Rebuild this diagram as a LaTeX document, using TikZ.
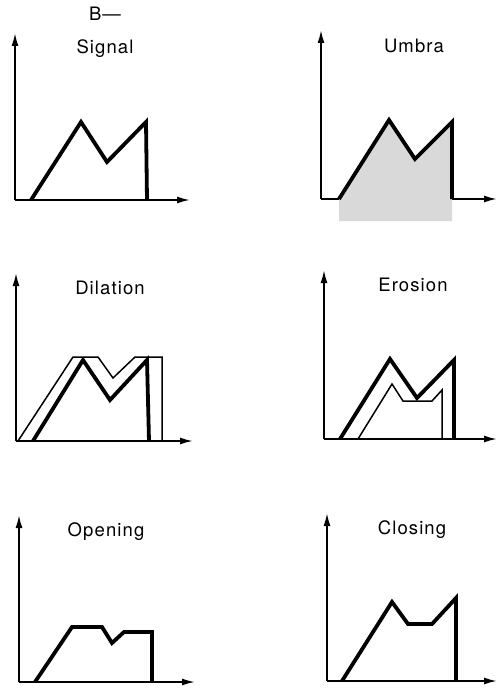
\documentclass[tikz,border=0pt]{standalone}
\usepackage{fontspec}
\setmainfont{TeX Gyre Heros}[LetterSpace=6]
\usetikzlibrary{arrows.meta}
\begin{document}
\begin{tikzpicture}[x=1pt,y=-1pt,
  axis/.style={line width=1.8pt,-{Latex[length=13pt,width=7pt]}},
  sig/.style={line width=3.8pt,line join=miter,line cap=butt},
  thinsig/.style={line width=1.5pt,line join=miter},
  title/.style={font=\fontsize{18.5}{22}\selectfont,inner sep=0pt}]
\useasboundingbox (0,0) rectangle (498,690);
% label
\node[title] (blabel) at (105,14) {B—};
% ---------- Signal ----------
\coordinate (o1) at (15,200);
\draw[axis] (o1) -- (15,33);
\draw[axis] (o1) -- (190,200);
\draw[sig] (31,200) -- (81,122) -- (107,162) -- (146,122) -- (147,200);
\node[title] (t1) at (105,49) {Signal};
% ---------- Umbra ----------
\coordinate (o2) at (321,199);
\draw[axis] (o2) -- (321,30);
\draw[axis] (o2) -- (497,199);
\fill[black!15] (339,199) -- (389,120) -- (415,159) -- (452,122) -- (452,221) -- (339,221) -- cycle;
\draw[sig] (339,199) -- (389,120) -- (415,159) -- (452,122) -- (452,199);
\node[title] (t2) at (414,46) {Umbra};
% ---------- Dilation ----------
\coordinate (o3) at (16,441);
\draw[axis] (o3) -- (16,273);
\draw[axis] (o3) -- (193,441);
\draw[thinsig] (18,441) -- (73,357) -- (98,357) -- (113,378) -- (135,357) -- (162,357) -- (162,441);
\draw[sig] (33,441) -- (83,360) -- (110,400) -- (147,360) -- (149,441);
\node[title] (t3) at (110,288) {Dilation};
% ---------- Erosion ----------
\coordinate (o4) at (324,439);
\draw[axis] (o4) -- (324,270);
\draw[axis] (o4) -- (497,439);
\draw[thinsig] (358,439) -- (392,384) -- (403,401) -- (432,401) -- (442,390) -- (442,439);
\draw[sig] (340,439) -- (390,359) -- (417,398) -- (454,360) -- (454,439);
\node[title] (t4) at (413,285) {Erosion};
% ---------- Opening ----------
\coordinate (o5) at (19,682);
\draw[axis] (o5) -- (19,515);
\draw[axis] (o5) -- (195,682);
\draw[sig] (35,682) -- (72,627) -- (102,627) -- (112,643) -- (124,632) -- (152,632) -- (152,682);
\node[title] (t5) at (106,532) {Opening};
% ---------- Closing ----------
\coordinate (o6) at (327,681);
\draw[axis] (o6) -- (327,513);
\draw[axis] (o6) -- (497,681);
\draw[sig] (342,681) -- (392,602) -- (408,624) -- (432,624) -- (456,598) -- (456,681);
\node[title] (t6) at (412,530) {Closing};
\end{tikzpicture}
\end{document}
